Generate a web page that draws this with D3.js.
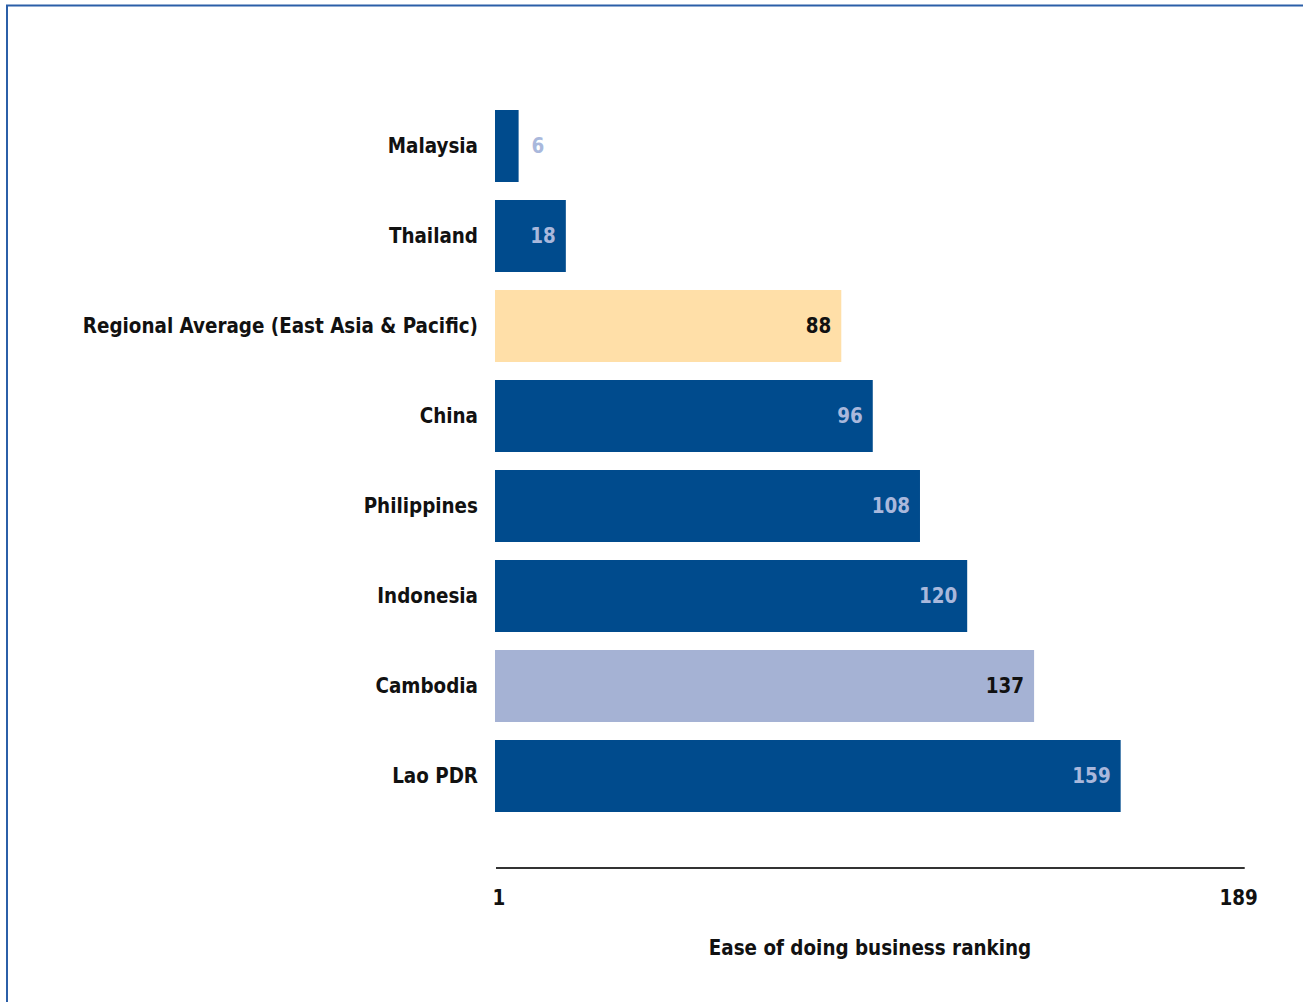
<!DOCTYPE html>
<html>
<head>
<meta charset="utf-8">
<script src="https://cdn.jsdelivr.net/npm/d3@7"></script>
<style>
  body { margin: 0; background: #fff; }
  svg { display: block; font-family: "DejaVu Sans Condensed", "DejaVu Sans", sans-serif; }
</style>
</head>
<body>
<svg id="chart" width="1303" height="1002"></svg>
<script>
// data
const countries = ["Malaysia", "Thailand", "Regional Average (East Asia & Pacific)", "China",
                   "Philippines", "Indonesia", "Cambodia", "Lao PDR"]
const rankings = [6, 18, 88, 96, 108, 120, 137, 159]
const barKinds = ["country", "country", "regional", "country", "country", "country", "cambodia", "country"]
const axisTicks = [1, 189]
const axisTitle = "Ease of doing business ranking"

const colors = {
    country: "#004b8d",
    regional: "#ffdfa8",
    cambodia: "#a5b2d4"
}

const svg = d3.select("#chart")
const margin = { top: 101, left: 495 }
const fontSize = 20.4

// frame lines (top + left)
svg.append("line").attr("x1", 6).attr("x2", 1303).attr("y1", 5.5).attr("y2", 5.5)
    .attr("stroke", "#2b5fa8").attr("stroke-width", 2)
svg.append("line").attr("x1", 7).attr("x2", 7).attr("y1", 5).attr("y2", 1002)
    .attr("stroke", "#2b5fa8").attr("stroke-width", 2)

const x = d3.scaleLinear().domain([0, 189]).range([margin.left, margin.left + 189 * 3.935])
const y = d3.scaleBand().domain(countries).range([margin.top, margin.top + 720])
    .paddingInner(0.2).paddingOuter(0.1)

const data = countries.map((c, i) => ({ name: c, value: rankings[i], kind: barKinds[i] }))

svg.selectAll("rect.bar")
    .data(data)
    .join("rect")
    .attr("class", "bar")
    .attr("x", x(0))
    .attr("y", d => y(d.name))
    .attr("width", d => x(d.value) - x(0))
    .attr("height", y.bandwidth())
    .attr("fill", d => colors[d.kind])

// category labels
svg.selectAll("text.cat")
    .data(data)
    .join("text")
    .attr("class", "cat")
    .attr("x", x(0) - 17)
    .attr("y", d => y(d.name) + y.bandwidth() / 2)
    .attr("dy", "0.35em")
    .attr("text-anchor", "end")
    .attr("font-size", fontSize)
    .attr("font-weight", "bold")
    .attr("fill", "#111")
    .text(d => d.name)

// value labels - inside the bar unless it's too short
svg.selectAll("text.val")
    .data(data)
    .join("text")
    .attr("class", "val")
    .attr("x", d => d.value < 10 ? x(d.value) + 13 : x(d.value) - 10)
    .attr("y", d => y(d.name) + y.bandwidth() / 2)
    .attr("dy", "0.35em")
    .attr("text-anchor", d => d.value < 10 ? "start" : "end")
    .attr("font-size", fontSize)
    .attr("font-weight", "bold")
    .attr("fill", d => d.kind == "country" ? "#a9b8dc" : "#111")
    .text(d => d.value)

// axis line + end ticks
const axisY = 868
svg.append("line")
    .attr("x1", x(0) + 1).attr("x2", x(189) + 6)
    .attr("y1", axisY).attr("y2", axisY)
    .attr("stroke", "#333").attr("stroke-width", 2)

svg.selectAll("text.tick")
    .data(axisTicks)
    .join("text")
    .attr("class", "tick")
    .attr("x", d => x(d))
    .attr("y", 898)
    .attr("dy", "0.35em")
    .attr("text-anchor", "middle")
    .attr("font-size", fontSize)
    .attr("font-weight", "bold")
    .attr("fill", "#111")
    .text(d => d)

svg.append("text")
    .attr("x", 870)
    .attr("y", 948)
    .attr("dy", "0.35em")
    .attr("text-anchor", "middle")
    .attr("font-size", fontSize)
    .attr("font-weight", "bold")
    .attr("fill", "#111")
    .text(axisTitle)
</script>
</body>
</html>
